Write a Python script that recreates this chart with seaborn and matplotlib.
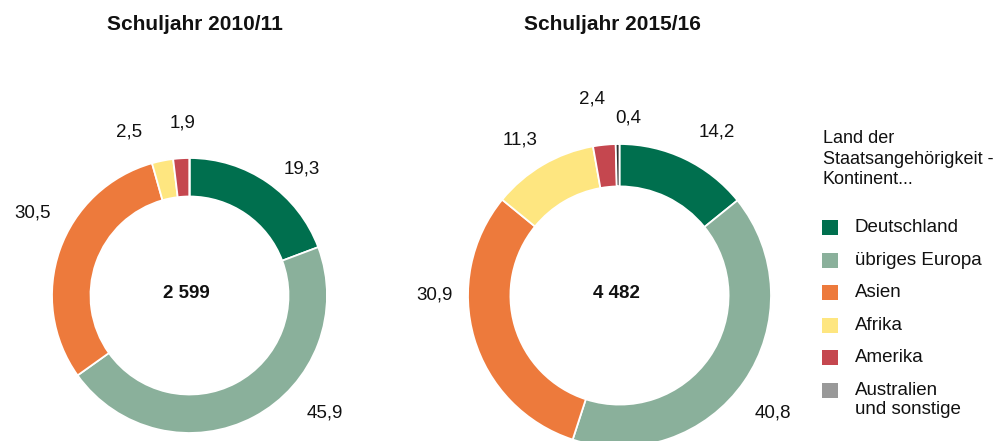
import numpy as np
import seaborn as sns
import matplotlib.pyplot as plt
from matplotlib.patches import Rectangle

sns.set_theme(style="white")
plt.rcParams['font.family'] = ['Liberation Sans', 'DejaVu Sans']

# Data (share of students in percent, by continent of citizenship)
categories = ["Deutschland", "übriges Europa", "Asien", "Afrika", "Amerika",
              "Australien\nund sonstige"]
years = ["Schuljahr 2010/11", "Schuljahr 2015/16"]
share_2010 = [19.3, 45.9, 30.5, 2.5, 1.9, 0.0]
share_2015 = [14.2, 40.8, 30.9, 11.3, 2.4, 0.4]
totals = [2599, 4482]

colors = sns.color_palette(["#006F4E", "#8AB09B", "#ED7A3C", "#FEE680",
                            "#C5474F", "#999999"])

# layout in pixels (y measured from bottom)
W, H = 1003, 441
centers = [(189.5, 145.5), (619.5, 145.5)]
radii = [137.5, 151.5]
ring = 0.28
title_y = H - 24
# label nudges: (angle offset in degrees, radius factor)
nudges = [
    [(-7, 1.23), (21, 1.30), (-8.5, 1.29), (9, 1.265), (-1, 1.255), (0, 1.25)],
    [(-5, 1.257), (-3, 1.275), (-16.6, 1.218), (2.2, 1.218), (2.2, 1.31), (-3.4, 1.173)],
]

fig = plt.figure(figsize=(W / 100, H / 100), dpi=100)
ax = fig.add_axes([0, 0, 1, 1])

for k, shares in enumerate([share_2010, share_2015]):
    cx, cy = centers[k]
    r = radii[k]
    wedges, _ = ax.pie(shares, colors=colors, startangle=90, counterclock=False,
                       radius=r, center=(cx, cy),
                       wedgeprops=dict(width=r * ring, edgecolor="white", linewidth=1.3))
    for w, v, (da, f) in zip(wedges, shares, nudges[k]):
        if v <= 0:
            continue
        if v < 1:
            # very thin slice looks dark in the original
            w.set_facecolor("#333333")
        ang = np.deg2rad((w.theta1 + w.theta2) / 2 + da)
        ax.text(cx + f * r * np.cos(ang), cy + f * r * np.sin(ang),
                f"{v:.1f}".replace(".", ","), ha="center", va="center",
                fontsize=13.5, color="#111111")
    ax.text(cx - 3, cy + 2, f"{totals[k]:,}".replace(",", " "), ha="center",
            va="center", fontsize=13.5, fontweight="bold", color="#111111")
    ax.text(cx + (5 if k == 0 else -7), title_y, years[k], ha="center", va="center",
            fontsize=15, fontweight="bold", color="#111111")

# legend
ax.text(823, H - 159, "Land der\nStaatsangehörigkeit -\nKontinent...", ha="left",
        va="center", fontsize=13, linespacing=1.25, color="#111111")
pitch = 32.4
for i, (lab, col) in enumerate(zip(categories, colors)):
    yc = H - 228 - i * pitch
    ax.add_patch(Rectangle((822, yc - 7.5), 16, 15, facecolor=col, edgecolor="none"))
    nl = lab.count("\n")
    ax.text(855, yc - nl * 10, lab, ha="left", va="center", fontsize=13.5,
            linespacing=1.15, color="#111111")

ax.set_xlim(0, W)
ax.set_ylim(0, H)
ax.set_aspect("equal")
ax.axis("off")

fig.savefig("out.png", dpi=100)
